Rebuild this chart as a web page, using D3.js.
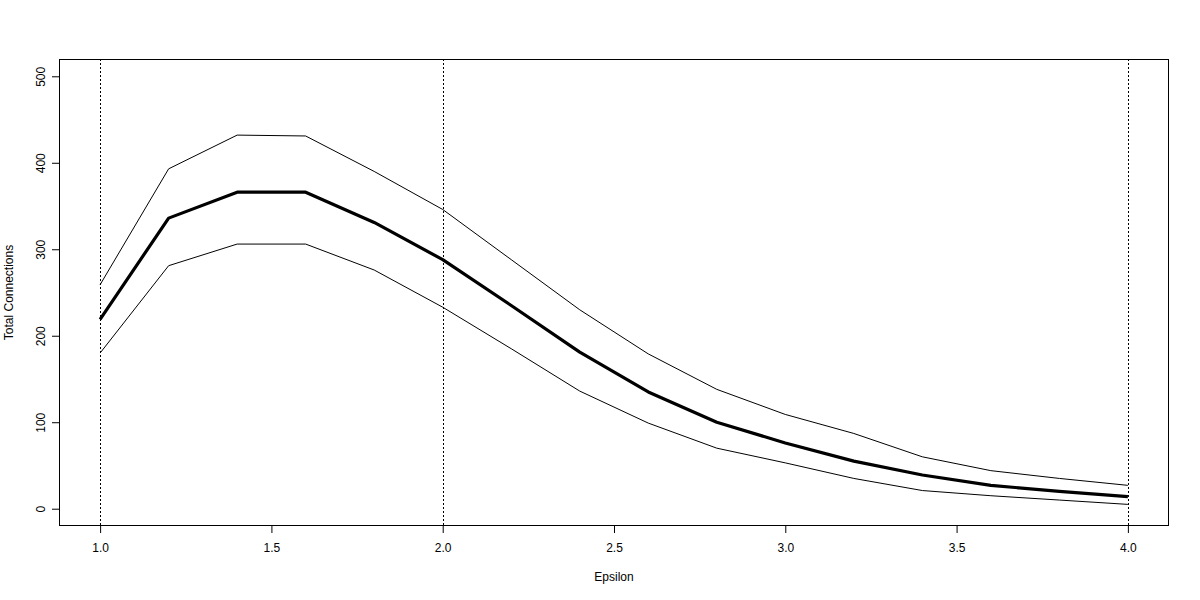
<!DOCTYPE html>
<html><head><meta charset="utf-8">
<script src="https://cdn.jsdelivr.net/npm/d3@7"></script>
<style>body{margin:0;background:#fff}svg{display:block}text{font-family:"Liberation Sans",Arial,sans-serif;fill:#000}</style>
</head><body>
<svg id="c" width="1200" height="600"></svg>
<script>
const epsilon = [1.0,1.2,1.4,1.6,1.8,2.0,2.2,2.4,2.6,2.8,3.0,3.2,3.4,3.6,3.8,4.0];
const meanVals = [219,336,366,366,331,288,235,181,135,100,76,55,39,27,20,14];
const upperVals = [259,393,432,431,390,346,288,230,179,138,109,87,60,44,35,27];
const lowerVals = [180,281,306,306,276,233,185,136,99,70,53,35,21,15,10,5];
const vlines = [1.0,2.0,4.0];
const xTicks = [1.0,1.5,2.0,2.5,3.0,3.5,4.0];
const yTicks = [0,100,200,300,400,500];

const svg = d3.select("#c");
const L=59, R=1169, T=59, B=526;
const x = d3.scaleLinear().domain([0.88,4.12]).range([L,R]);
const y = d3.scaleLinear().domain([-20,520]).range([B,T]);

svg.append("rect").attr("x",L+0.5).attr("y",T+0.5).attr("width",R-L-1).attr("height",B-T-1)
  .attr("fill","none").attr("stroke","#000").attr("stroke-width",1);

const xa = svg.append("g").attr("transform",`translate(0,${B})`)
  .call(d3.axisBottom(x).tickValues(xTicks).tickFormat(d3.format(".1f")).tickSize(7).tickPadding(10));
xa.select(".domain").attr("d",`M${x(1)},-0.5H${x(4)}`);
const ya = svg.append("g").attr("transform",`translate(${L},0)`)
  .call(d3.axisLeft(y).tickValues(yTicks).tickSize(7).tickPadding(0));
ya.select(".domain").attr("d",`M0.5,${y(0)}V${y(500)}`);
[xa,ya].forEach(a=>{a.selectAll("path,line").attr("stroke","#000");a.selectAll("text").style("font-size","12px").attr("fill","#000");});
ya.selectAll(".tick text").attr("x",null).attr("dy",null)
  .attr("text-anchor","middle").attr("transform","translate(-18,0) rotate(-90)").attr("dy","0.35em");

svg.selectAll(".vl").data(vlines).enter().append("line")
  .attr("x1",d=>Math.round(x(d))+0.5).attr("x2",d=>Math.round(x(d))+0.5).attr("y1",T).attr("y2",B)
  .attr("stroke","#000").attr("stroke-width",1).attr("stroke-dasharray","2,2");

const line = v => d3.line().x((d,i)=>x(epsilon[i])).y(d=>y(d))(v);
svg.append("path").attr("d",line(upperVals)).attr("fill","none").attr("stroke","#000").attr("stroke-width",1);
svg.append("path").attr("d",line(lowerVals)).attr("fill","none").attr("stroke","#000").attr("stroke-width",1);
svg.append("path").attr("d",line(meanVals)).attr("fill","none").attr("stroke","#000").attr("stroke-width",3.2).attr("stroke-linejoin","round");

svg.append("text").attr("x",(L+R)/2).attr("y",581).attr("text-anchor","middle").style("font-size","12px").text("Epsilon");
svg.append("text").attr("transform",`translate(13,${(T+B)/2}) rotate(-90)`).attr("text-anchor","middle").style("font-size","12px").text("Total Connections");
</script>
</body></html>
